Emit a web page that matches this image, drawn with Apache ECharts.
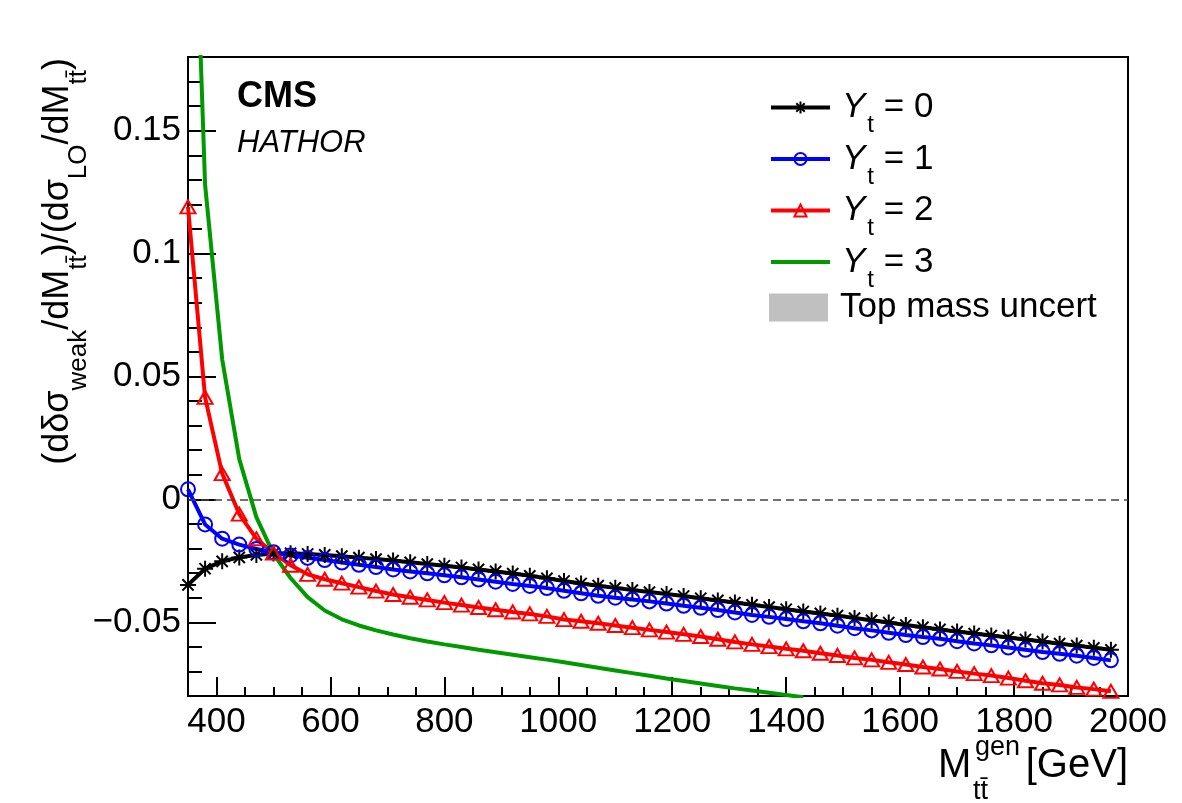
<!DOCTYPE html>
<html>
<head>
<meta charset="utf-8">
<title>Weak correction ratio vs M_tt</title>
<script src="https://cdn.jsdelivr.net/npm/echarts@6.0.0/dist/echarts.min.js"></script>
<style>
    html, body { margin: 0; padding: 0; background: #fff; }
    #chart { width: 1182px; height: 803px; }
</style>
</head>
<body>
<div id="chart"></div>
<script>
// M_tt^gen [GeV], one point every 30 GeV
var mass = [350, 380, 410, 440, 470, 500, 530, 560, 590, 620, 650, 680, 710, 740, 770,
    800, 830, 860, 890, 920, 950, 980, 1010, 1040, 1070, 1100, 1130, 1160, 1190, 1220,
    1250, 1280, 1310, 1340, 1370, 1400, 1430, 1460, 1490, 1520, 1550, 1580, 1610, 1640,
    1670, 1700, 1730, 1760, 1790, 1820, 1850, 1880, 1910, 1940, 1970];

// Y_t = 0
var yt0 = [-0.0348, -0.0282, -0.0252, -0.0236, -0.0226, -0.0220, -0.0219, -0.0222, -0.0226, -0.0231,
    -0.0237, -0.0243, -0.0249, -0.0256, -0.0263, -0.0270, -0.0277, -0.0285, -0.0293, -0.0302,
    -0.0311, -0.0321, -0.0332, -0.0342, -0.0351, -0.0360, -0.0369, -0.0377, -0.0385, -0.0393,
    -0.0402, -0.0411, -0.0420, -0.0429, -0.0438, -0.0447, -0.0456, -0.0464, -0.0473, -0.0483,
    -0.0492, -0.0501, -0.0511, -0.0520, -0.0529, -0.0538, -0.0546, -0.0554, -0.0562, -0.0570,
    -0.0578, -0.0587, -0.0595, -0.0604, -0.0612];

// Y_t = 1
var yt1 = [0.0041, -0.0102, -0.0160, -0.0184, -0.0202, -0.0215, -0.0228, -0.0238, -0.0247, -0.0257,
    -0.0266, -0.0275, -0.0285, -0.0293, -0.0301, -0.0309, -0.0317, -0.0326, -0.0335, -0.0344,
    -0.0352, -0.0361, -0.0372, -0.0382, -0.0392, -0.0400, -0.0407, -0.0415, -0.0424, -0.0433,
    -0.0441, -0.0450, -0.0460, -0.0470, -0.0478, -0.0487, -0.0496, -0.0504, -0.0514, -0.0524,
    -0.0533, -0.0543, -0.0552, -0.0560, -0.0567, -0.0577, -0.0586, -0.0594, -0.0603, -0.0612,
    -0.0621, -0.0628, -0.0636, -0.0645, -0.0655];

// Y_t = 2
var yt2 = [0.1190, 0.0415, 0.0105, -0.0060, -0.0160, -0.0218, -0.0268, -0.0305, -0.0325, -0.0341,
    -0.0357, -0.0373, -0.0387, -0.0398, -0.0409, -0.0420, -0.0430, -0.0440, -0.0449, -0.0458,
    -0.0466, -0.0476, -0.0489, -0.0496, -0.0504, -0.0513, -0.0522, -0.0531, -0.0540, -0.0549,
    -0.0558, -0.0569, -0.0580, -0.0590, -0.0599, -0.0608, -0.0616, -0.0626, -0.0635, -0.0645,
    -0.0653, -0.0663, -0.0672, -0.0682, -0.0690, -0.0700, -0.0709, -0.0717, -0.0727, -0.0738,
    -0.0748, -0.0755, -0.0765, -0.0772, -0.0781];

// Y_t = 3 (leaves the frame at the bottom near 1415 GeV)
var yt3 = [0.330, 0.128, 0.0570, 0.0164, -0.0072, -0.0222, -0.0320, -0.0398, -0.0452, -0.0488,
    -0.0513, -0.0533, -0.0550, -0.0565, -0.0578, -0.0590, -0.0601, -0.0612, -0.0622, -0.0632,
    -0.0642, -0.0652, -0.0663, -0.0674, -0.0685, -0.0696, -0.0707, -0.0718, -0.0729, -0.0739,
    -0.0749, -0.0759, -0.0769, -0.0778, -0.0787, -0.0796, -0.0805];

var seriesNames = ['Y_t = 0', 'Y_t = 1', 'Y_t = 2', 'Y_t = 3'];
var bandName = 'Top mass uncert';

var xTicks = [400, 600, 800, 1000, 1200, 1400, 1600, 1800, 2000];
var yTicks = [-0.05, 0, 0.05, 0.1, 0.15];
var yTickLabels = ['\u22120.05', '0', '0.05', '0.1', '0.15'];

var FONT = '"Liberation Sans", Arial, Helvetica, sans-serif';
var starPath = 'path://M0,-10L0,10M-10,0L10,0M-7,-7L7,7M-7,7L7,-7';

function pairs(xs, ys) {
    var out = [];
    for (var i = 0; i < ys.length; i++) {
        out.push([xs[i], ys[i]]);
    }
    return out;
}

// grey dither used for the mass-uncertainty legend box
function hatch() {
    var c = document.createElement('canvas');
    c.width = 2;
    c.height = 2;
    var g = c.getContext('2d');
    g.fillStyle = '#e4e4e4';
    g.fillRect(0, 0, 2, 2);
    g.fillStyle = '#9c9c9c';
    g.fillRect(0, 0, 1, 1);
    g.fillRect(1, 1, 1, 1);
    return { image: c, repeat: 'repeat' };
}

function yLabel(v) {
    for (var i = 0; i < yTicks.length; i++) {
        if (Math.abs(v - yTicks[i]) < 1e-9) return yTickLabels[i];
    }
    return '';
}

var tickStyle = { color: '#000', width: 2 };
var axisLine = { show: true, onZero: false, lineStyle: { color: '#000', width: 2 } };

var chart = echarts.init(document.getElementById('chart'));
var hatchFill = hatch();

var option = {
    animation: false,
    backgroundColor: '#fff',
    textStyle: { fontFamily: FONT, color: '#000' },
    grid: {
        left: 188, right: 54, top: 57, bottom: 107,
        show: true, borderColor: '#000', borderWidth: 2,
        outerBoundsMode: 'none'
    },
    xAxis: [{
        type: 'value', position: 'bottom', min: 350, max: 2000, interval: 50,
        axisLine: axisLine,
        axisTick: { inside: true, length: 9, lineStyle: tickStyle },
        axisLabel: { show: false },
        splitLine: { show: false }
    }, {
        type: 'value', position: 'bottom', offset: 0, min: 350, max: 2000,
        axisLine: { show: false, onZero: false },
        axisTick: { inside: true, length: 19, customValues: xTicks, lineStyle: tickStyle },
        axisLabel: {
            customValues: xTicks, fontSize: 35, margin: 9, color: '#000', fontFamily: FONT,
            formatter: function(v) { return String(v); }
        },
        splitLine: { show: false }
    }],
    yAxis: [{
        type: 'value', position: 'left', min: -0.08, max: 0.18, interval: 0.01,
        axisLine: axisLine,
        axisTick: { inside: true, length: 14, lineStyle: tickStyle },
        axisLabel: { show: false },
        splitLine: { show: false }
    }, {
        type: 'value', position: 'left', offset: 0, min: -0.08, max: 0.18,
        axisLine: { show: false, onZero: false },
        axisTick: { inside: true, length: 28, customValues: yTicks, lineStyle: tickStyle },
        axisLabel: {
            customValues: yTicks, fontSize: 35, margin: 7, color: '#000', fontFamily: FONT,
            formatter: yLabel
        },
        splitLine: { show: false }
    }],
    legend: [{
        data: [seriesNames[0], seriesNames[1], seriesNames[2],
            { name: seriesNames[3], itemStyle: { opacity: 0 } }],
        orient: 'vertical',
        left: 769, top: 90, padding: 0,
        itemWidth: 59, itemHeight: 15, itemGap: 4,
        selectedMode: false,
        lineStyle: { width: 'inherit' },
        formatter: function(name) {
            var m = name.match(/^Y_t = (\d)$/);
            if (!m) return '{n|' + name + '}';
            return '{i|Y}{s|t}{n| = ' + m[1] + '}';
        },
        textStyle: {
            color: '#000', fontFamily: FONT,
            rich: {
                i: { fontSize: 35, fontStyle: 'italic', lineHeight: 60, padding: [0, 0, 0, 7], color: '#000' },
                s: { fontSize: 24, lineHeight: 24, verticalAlign: 'bottom', padding: [0, 0, 0, 2], color: '#000' },
                n: { fontSize: 35, lineHeight: 60, color: '#000' }
            }
        }
    }, {
        data: [{ name: bandName, icon: 'rect', itemStyle: { color: hatchFill, borderWidth: 0 } }],
        orient: 'vertical',
        left: 769, top: 290, padding: 0,
        itemWidth: 59, itemHeight: 28,
        selectedMode: false,
        formatter: function(name) { return '{n|' + name + '}'; },
        textStyle: {
            color: '#000', fontFamily: FONT,
            rich: { n: { fontSize: 35, lineHeight: 44, padding: [0, 0, 0, 7], color: '#000' } }
        }
    }],
    graphic: [{
        type: 'text', x: 237, y: 97,
        style: { text: 'CMS', fontSize: 36, fontWeight: 'bold', fontFamily: FONT, fill: '#000', verticalAlign: 'middle' }
    }, {
        type: 'text', x: 237, y: 143,
        style: { text: 'HATHOR', fontSize: 31, fontStyle: 'italic', fontFamily: FONT, fill: '#000', verticalAlign: 'middle' }
    }, {
        // y axis title, read bottom to top
        type: 'text', x: 58, y: 58, rotation: Math.PI / 2,
        style: {
            text: '(d\u03b4\u03c3{s|weak}/dM{s|tt\u0304})/(d\u03c3{s|LO}/dM{s|tt\u0304})',
            fontSize: 36, fontFamily: FONT, fill: '#000', lineHeight: 68,
            align: 'right', verticalAlign: 'middle',
            rich: { s: { fontSize: 26, lineHeight: 26, verticalAlign: 'bottom', fontFamily: FONT, fill: '#000' } }
        }
    }, {
        // x axis title: M, superscript gen, subscript tt
        type: 'group',
        children: [{
            type: 'text', x: 938, y: 766,
            style: { text: 'M', fontSize: 40, fontFamily: FONT, fill: '#000', verticalAlign: 'middle' }
        }, {
            type: 'text', x: 975, y: 748,
            style: { text: 'gen', fontSize: 27, fontFamily: FONT, fill: '#000', verticalAlign: 'middle' }
        }, {
            type: 'text', x: 973, y: 792,
            style: { text: 'tt\u0304', fontSize: 27, fontFamily: FONT, fill: '#000', verticalAlign: 'middle' }
        }, {
            type: 'text', x: 1128, y: 766,
            style: { text: '[GeV]', fontSize: 40, fontFamily: FONT, fill: '#000', align: 'right', verticalAlign: 'middle' }
        }]
    }],
    series: [{
        name: seriesNames[0],
        type: 'line',
        data: pairs(mass, yt0),
        symbol: starPath,
        symbolSize: 16,
        lineStyle: { color: '#000', width: 4 },
        itemStyle: { color: '#000', borderColor: '#000', borderWidth: 2 },
        markLine: {
            silent: true,
            symbol: ['none', 'none'],
            label: { show: false },
            lineStyle: { color: '#444', width: 1.5, type: [8, 5] },
            data: [{ yAxis: 0 }]
        }
    }, {
        name: seriesNames[1],
        type: 'line',
        data: pairs(mass, yt1),
        symbol: 'circle',
        symbolSize: 14,
        lineStyle: { color: '#0000ff', width: 4 },
        itemStyle: { color: 'rgba(0,0,0,0)', borderColor: '#0000ff', borderWidth: 2 }
    }, {
        name: seriesNames[2],
        type: 'line',
        data: pairs(mass, yt2),
        symbol: 'triangle',
        symbolSize: [15, 13],
        lineStyle: { color: '#ff0000', width: 4 },
        itemStyle: { color: 'rgba(0,0,0,0)', borderColor: '#ff0000', borderWidth: 2 }
    }, {
        name: seriesNames[3],
        type: 'line',
        data: pairs(mass, yt3),
        symbol: 'none',
        lineStyle: { color: '#009900', width: 4 },
        itemStyle: { color: 'rgba(0,0,0,0)', borderWidth: 0 }
    }, {
        name: bandName,
        type: 'line',
        data: [],
        symbol: 'none',
        lineStyle: { width: 0 },
        itemStyle: { color: hatchFill, borderWidth: 0 }
    }]
};

chart.setOption(option);
</script>
</body>
</html>
